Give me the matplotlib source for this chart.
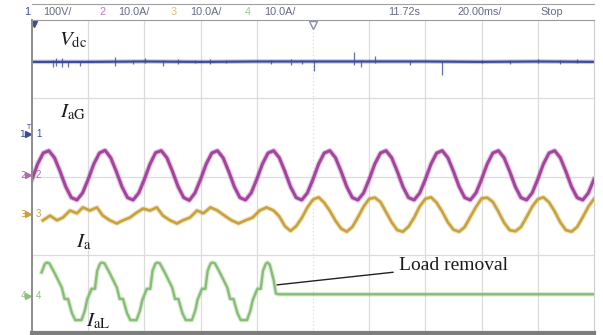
import numpy as np
import matplotlib.pyplot as plt

# scope settings: 10 x 20 ms across, 8 divisions high
ms_per_div = 20.0
volts_per_div = 100.0
amps_per_div = 10.0

# zero level of each channel, divisions above the bottom edge
ch1_zero = 5.08
ch2_zero = 4.03
ch3_zero = 3.03
ch4_zero = 0.95

# DC link voltage Vdc (ch1), V
vdc_ms = [0, 20, 40, 60, 80, 100, 120, 140, 160, 180, 200]
vdc_volts = [185, 185, 186, 185, 186, 186, 186, 186, 185, 186, 185]
spike_ms = [7.5, 8.6, 10.6, 12.8, 17.1, 29.5, 36.0, 40.2, 46.6, 52.0, 58.0, 63.5,
            69.0, 85.0, 92.0, 96.0, 100.5, 114.5, 117.0, 122.0, 134.5, 146.0,
            160.0, 170.0, 180.0, 188.0, 194.0]
spike_lo = [-14, -10, -12, -13, -10, -12, -6, -3, -12, -5, -4, -6,
            -4, -6, -10, -6, -25, -8, -13, -4, -10, -33,
            -4, -5, -4, -6, -4]
spike_hi = [4, 10, 10, 3, 2, 12, 3, 8, 3, 6, 5, 6,
            4, 5, 6, 4, 5, 23, 3, 15, 3, 2,
            5, 5, 6, 4, 6]

# grid current IaG (ch2), A, one sample every 2 ms
sample_ms = np.arange(0, 201, 2)
iag_amps = [-1.0, 2.9, 5.7, 6.3, 4.5, 1.0, -2.9, -5.7, -6.3, -4.5,
            -1.0, 2.9, 5.7, 6.4, 4.5, 1.0, -2.9, -5.7, -6.3, -4.5,
            -1.0, 2.9, 5.8, 6.3, 4.5, 1.0, -2.9, -5.7, -6.4, -4.5,
            -1.0, 2.9, 5.7, 6.3, 4.5, 1.0, -2.9, -5.7, -6.3, -4.5,
            -1.0, 2.9, 5.7, 6.3, 4.5, 1.0, -2.9, -5.7, -6.3, -4.5,
            -1.0, 2.9, 5.7, 6.3, 4.5, 1.0, -2.9, -5.7, -6.3, -4.5,
            -1.0, 2.9, 5.7, 6.3, 4.5, 1.0, -2.9, -5.7, -6.3, -4.5,
            -1.0, 2.9, 5.7, 6.3, 4.5, 1.0, -2.9, -5.7, -6.3, -4.5,
            -1.0, 2.9, 5.7, 6.3, 4.5, 1.0, -2.9, -5.7, -6.3, -4.5,
            -1.0, 2.9, 5.7, 6.3, 4.5, 1.0, -2.9, -5.7, -6.3, -4.5,
            -1.0]

# converter current Ia (ch3), A, vertices of the trace
ia_ms = [3.9, 6.4, 8.9, 11.0, 13.5, 16.0, 18.1, 20.6, 23.1, 25.2, 27.7, 30.2,
         32.4, 34.8, 37.3, 39.5, 42.0, 44.4, 46.6, 49.1, 51.6, 53.7, 56.2, 58.7,
         61.0, 63.5, 66.0, 68.5, 71.0, 73.5, 76.0, 78.5, 81.0, 83.5, 86.0, 88.0,
         90, 92, 94, 96, 98, 100, 102, 104, 106, 108, 110, 112, 114, 116, 118,
         120, 122, 124, 126, 128, 130, 132, 134, 136, 138, 140, 142, 144, 146,
         148, 150, 152, 154, 156, 158, 160, 162, 164, 166, 168, 170, 172, 174,
         176, 178, 180, 182, 184, 186, 188, 190, 192, 194, 196, 198, 200]
ia_amps = [-1.5, -0.3, -1.5, -0.8, 1.0, 0.3, 1.8, 1.0, 1.8, -0.3, -1.5, -2.3,
           -1.5, -0.8, 0.5, 1.5, 1.0, 1.8, -0.3, -1.5, -2.3, -1.5, -0.8, 1.0,
           0.3, 1.8, 1.0, -0.3, -1.5, -2.3, -1.5, -0.8, 1.0, 1.8, 1.0, -0.5,
           -3.0, -4.2, -3.0, -0.9, 1.8, 3.8, 4.4, 3.0, 0.9, -1.6, -3.6, -4.4,
           -3.2, -0.7, 2.0, 4.0, 4.3, 3.2, 0.6, -2.0, -4.0, -4.4, -3.1, -0.8,
           2.1, 4.0, 4.4, 3.0, 0.7, -2.0, -3.9, -4.4, -3.2, -0.6, 1.9, 4.1,
           4.3, 3.2, 0.7, -2.1, -4.0, -4.3, -3.2, -0.7, 2.0, 3.9, 4.4, 3.1,
           0.8, -2.0, -4.0, -4.4, -3.2, -0.7, 2.0, 4.0]

# load current IaL (ch4), A, vertices of the trace
ial_ms = [3.4, 4.6, 5.2, 6.2, 8.2, 10.6, 11.6, 12.8, 14.2, 15.4, 17.6, 18.8,
          19.6, 21.2, 22.4, 23.2, 24.2, 24.8, 25.8, 27.8, 30.2, 31.2, 32.4, 33.8, 35.0, 37.2, 38.4,
          39.3, 40.9, 42.1, 42.9, 43.9, 44.5, 45.5, 47.5, 49.9, 50.9, 52.1, 53.5, 54.7, 56.9, 58.1,
          58.9, 60.5, 61.7, 62.5, 63.5, 64.1, 65.1, 67.1, 69.5, 70.5, 71.7, 73.1, 74.3, 76.5, 77.7,
          78.6, 80.2, 81.4, 82.2, 83.2, 83.8, 84.6, 86.0, 86.8, 87.8, 200.0]
ial_amps = [6.0, 8.2, 8.5, 8.3, 5.6, 2.1, -0.8, -0.8, -4.4, -6.2, -6.2, -3.8,
            -1.0, 1.8, 1.8, 6.4, 8.2, 8.5, 8.3, 5.6, 2.1, -0.8, -0.8, -4.4, -6.2, -6.2, -3.8,
            -1.0, 1.8, 1.8, 6.4, 8.2, 8.5, 8.3, 5.6, 2.1, -0.8, -0.8, -4.4, -6.2, -6.2, -3.8,
            -1.0, 1.8, 1.8, 6.4, 8.2, 8.5, 8.3, 5.6, 2.1, -0.8, -0.8, -4.4, -6.2, -6.2, -3.8,
            -1.0, 1.8, 1.8, 6.4, 8.2, 8.5, 8.0, 4.0, 0.6, 0.4, 0.4]

header_items = [("1", "100V/"), ("2", "10.0A/"), ("3", "10.0A/"), ("4", "10.0A/")]
time_readout = "11.72s"
scale_readout = "20.00ms/"
run_state = "Stop"

c_vdc = "#3d4b9e"
c_iag = "#a5449f"
c_ia = "#c9a23a"
c_ial = "#86bf74"
c_grid = "#dcdcdc"
c_frame = "#8c8c8c"

plt.rcParams["mathtext.fontset"] = "stix"

W, H = 603, 335
fig = plt.figure(figsize=(W / 100, H / 100), dpi=100)
fig.patch.set_facecolor("white")

ax = fig.add_axes([32 / W, 2 / H, 562 / W, 313 / H])
ax.set_xlim(0, 10 * ms_per_div)
ax.set_ylim(0, 8)
ax.set_xticks([])
ax.set_yticks([])

# graticule
for k in range(1, 10):
    ls = (0, (1, 2)) if k == 5 else "-"
    ax.axvline(k * ms_per_div, color=c_grid, lw=0.9, ls=ls, zorder=0)
for k in (2, 4, 6):
    ax.axhline(k, color=c_grid, lw=0.9, zorder=0)

ax.spines["left"].set_color(c_frame)
ax.spines["left"].set_linewidth(1.4)
ax.spines["bottom"].set_color("#7d7d7d")
ax.spines["bottom"].set_linewidth(3.0)
ax.spines["top"].set_color("#9a9a9a")
ax.spines["top"].set_linewidth(0.8)
ax.spines["right"].set_color("#cfcfcf")
ax.spines["right"].set_linewidth(0.8)


def trace(ms, values, zero, per_div, color, lw):
    y = zero + np.asarray(values, dtype=float) / per_div
    ax.plot(ms, y, color=color, lw=lw + 1.6, alpha=0.3, solid_joinstyle="round")
    ax.plot(ms, y, color=color, lw=lw, solid_joinstyle="round")


# Vdc
trace(vdc_ms, vdc_volts, ch1_zero, volts_per_div, c_vdc, 1.6)
base = np.interp(spike_ms, vdc_ms, vdc_volts)
ax.vlines(spike_ms, ch1_zero + (base + np.array(spike_lo)) / volts_per_div,
          ch1_zero + (base + np.array(spike_hi)) / volts_per_div,
          color=c_vdc, lw=0.9, alpha=0.8)

trace(sample_ms, iag_amps, ch2_zero, amps_per_div, c_iag, 2.2)
trace(ia_ms, ia_amps, ch3_zero, amps_per_div, c_ia, 1.9)
trace(ial_ms, ial_amps, ch4_zero, amps_per_div, c_ial, 1.7)

# trace labels
lab = dict(fontsize=15, color="#1a1a1a", ha="left", va="baseline")
ax.text(9.6, 7.36, r"$V_{\mathrm{dc}}$", **lab)
ax.text(10.0, 5.51, r"$I_{\mathrm{aG}}$", **lab)
ax.text(15.6, 2.18, r"$I_{\mathrm{a}}$", **lab)
ax.text(19.2, 0.18, r"$I_{\mathrm{aL}}$", **lab)

# load removal callout
ax.annotate("Load removal", xy=(87.2, 1.23), xytext=(130.5, 1.72),
            fontsize=14, family="Liberation Serif", color="#1a1a1a",
            va="center", ha="left",
            arrowprops=dict(arrowstyle="-", color="#222222", lw=1.0,
                            shrinkA=2, shrinkB=0))

# channel ground markers on the left edge
for zero, name, col in [(ch1_zero, "1", c_vdc), (ch2_zero, "2", "#b06ab0"),
                        (ch3_zero, "3", "#c9a23a"), (ch4_zero, "4", "#8cc07c")]:
    ax.text(-3.2, zero, name, fontsize=6.5, color=col, ha="center", va="center",
            clip_on=False)
    ax.plot([-1.4], [zero], marker=">", ms=4, color=col, clip_on=False)
    ax.text(1.4, zero, name, fontsize=7, color=col, ha="left", va="center",
            family="Liberation Sans")
ax.text(-1.4, ch1_zero + 0.18, "T", fontsize=5, color=c_vdc, ha="center",
        va="center", clip_on=False)

# trigger position marker
ax.plot([100], [7.88], marker="v", ms=6, mfc="white", mec="#8a90b0", mew=1.0,
        clip_on=False)
ax.plot([0.6], [7.9], marker="v", ms=4, color=c_vdc, clip_on=False)

# header bar
fig.add_artist(plt.Line2D([32 / W, 594 / W], [1 - 4 / H, 1 - 4 / H],
                          color="#a0a0a0", lw=0.8))
hy = 1 - 12 / H
hdr = dict(fontsize=7.8, family="Liberation Sans", va="center", ha="left")
num_cols = ["#3d4b9e", "#c07cc0", "#dcc070", "#9ccb8e"]
xs = [24, 99, 171, 245]
for (num, scale), x, col in zip(header_items, xs, num_cols):
    fig.text(x / W, hy, num, color=col, **hdr)
    fig.text((x + 19) / W, hy, scale, color="#666c80", **hdr)
fig.text(388 / W, hy, time_readout, color="#666c80", **hdr)
fig.text(458 / W, hy, scale_readout, color="#666c80", **hdr)
fig.text(540 / W, hy, run_state, color="#666c80", **hdr)

fig.savefig("out.png", dpi=100)
